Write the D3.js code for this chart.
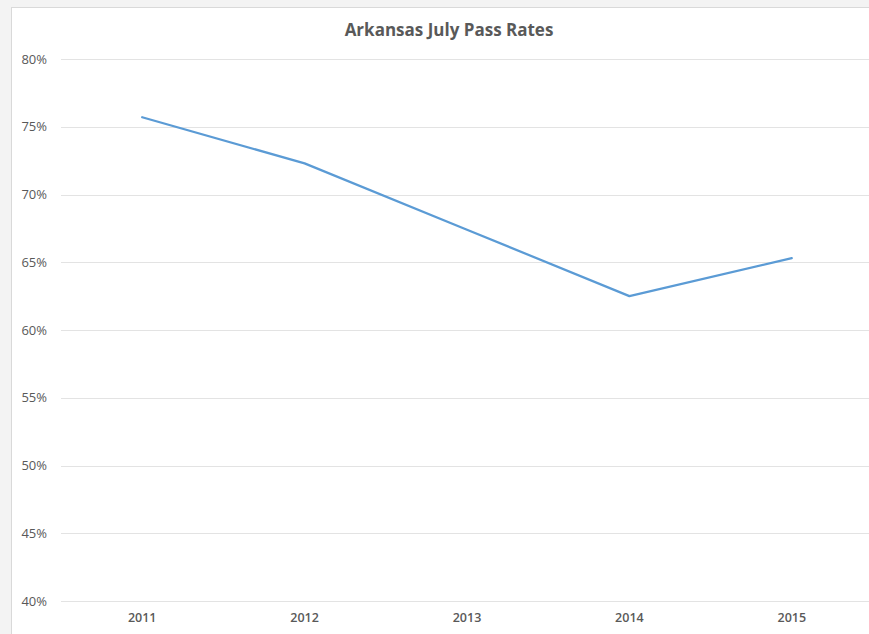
<!DOCTYPE html>
<html>
<head>
<meta charset="utf-8">
<script src="https://cdn.jsdelivr.net/npm/d3@7"></script>
<style>
  html, body { margin: 0; padding: 0; background: #f3f3f3; overflow: hidden; }
  svg { display: block; }
</style>
</head>
<body>
<script>
const years = ['2011', '2012', '2013', '2014', '2015']
const passRates = [0.757, 0.723, 0.674, 0.625, 0.653]
const yTicks = [0.40, 0.45, 0.50, 0.55, 0.60, 0.65, 0.70, 0.75, 0.80]

const W = 869
const H = 634
const FRAME_X = 11
const FRAME_Y = 7
const LEFT = 61
const RIGHT = 873
const TOP = 59
const BOTTOM = 601

const svg = d3.select('body').append('svg')
  .attr('width', W)
  .attr('height', H)

// chart frame, right and bottom edges run off the page
svg.append('rect')
  .attr('x', FRAME_X + 0.5)
  .attr('y', FRAME_Y + 0.5)
  .attr('width', 920)
  .attr('height', 660)
  .attr('fill', '#ffffff')
  .attr('stroke', '#d9d9d9')

svg.append('text')
  .attr('x', 449)
  .attr('y', 36)
  .attr('text-anchor', 'middle')
  .style('font-family', '"Open Sans", sans-serif')
  .style('font-size', '17px')
  .style('font-weight', 'bold')
  .style('fill', '#595959')
  .text('Arkansas July Pass Rates')

const x = d3.scaleBand()
  .domain(years)
  .range([LEFT, RIGHT])

const y = d3.scaleLinear()
  .domain([0.40, 0.80])
  .range([BOTTOM, TOP])

// gridlines
svg.append('g')
  .selectAll('line')
  .data(yTicks)
  .join('line')
  .attr('x1', LEFT)
  .attr('x2', W)
  .attr('y1', d => Math.round(y(d)) + 0.5)
  .attr('y2', d => Math.round(y(d)) + 0.5)
  .attr('stroke', '#e3e3e3')
  .attr('stroke-width', 1.2)

const yAxis = svg.append('g')
  .attr('transform', `translate(${LEFT - 14},0)`)
  .call(d3.axisLeft(y).tickValues(yTicks).tickFormat(d3.format('.0%')).tickSize(0).tickPadding(0))
yAxis.select('.domain').remove()
yAxis.selectAll('text')
  .style('font-family', '"Open Sans", sans-serif')
  .style('font-size', '13px')
  .style('fill', '#595959')

const xAxis = svg.append('g')
  .attr('transform', `translate(0,${BOTTOM})`)
  .call(d3.axisBottom(x).tickSize(0).tickPadding(12))
xAxis.select('.domain').remove()
xAxis.selectAll('text')
  .style('font-family', '"Open Sans", sans-serif')
  .style('font-size', '12.5px')
  .style('font-weight', '600')
  .style('fill', '#595959')

const line = d3.line()
  .x((d, i) => x(years[i]) + x.bandwidth() / 2)
  .y(d => y(d))

svg.append('path')
  .datum(passRates)
  .attr('fill', 'none')
  .attr('stroke', '#5b9bd5')
  .attr('stroke-width', 2.25)
  .attr('stroke-linejoin', 'round')
  .attr('stroke-linecap', 'round')
  .attr('d', line)
</script>
</body>
</html>
